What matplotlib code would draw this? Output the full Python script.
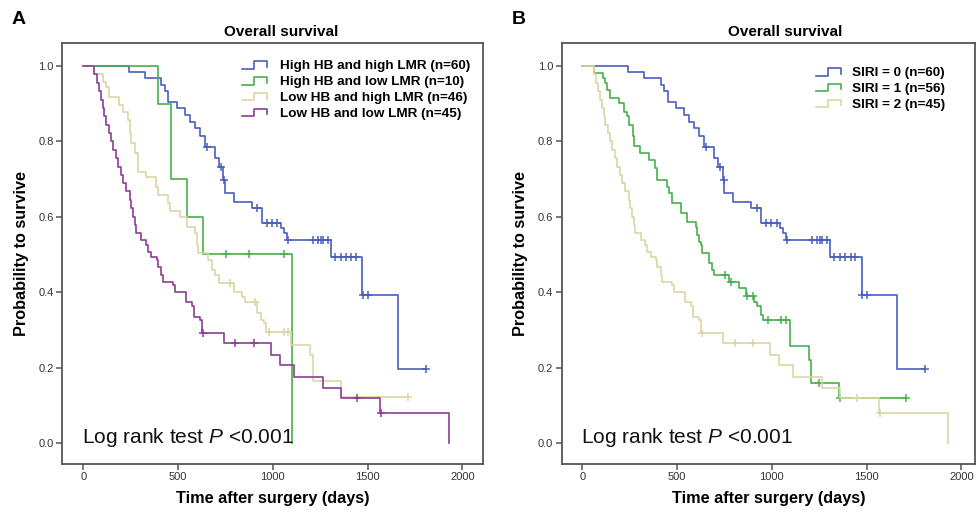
import numpy as np
import matplotlib
matplotlib.use("Agg")
import matplotlib.pyplot as plt
from matplotlib.legend_handler import HandlerBase
from matplotlib.lines import Line2D

plt.rcParams['font.family'] = ['Liberation Sans', 'DejaVu Sans']
plt.rcParams['mathtext.fontset'] = 'custom'
plt.rcParams['mathtext.rm'] = 'Liberation Sans'
plt.rcParams['mathtext.it'] = 'Liberation Sans:italic'

# ---------------- data ----------------
# Curve 1: High HB & high LMR (panel A)  == SIRI = 0 (panel B)
hh_times = [241, 324, 413, 431, 450, 493, 537, 564, 590, 617, 640, 697, 714, 740, 750,
            794, 892, 945, 1043, 1060, 1075, 1309, 1473, 1660]
hh_surv = [0.983, 0.967, 0.950, 0.933, 0.905, 0.888, 0.870, 0.852, 0.835, 0.813, 0.786,
           0.755, 0.733, 0.698, 0.662, 0.640, 0.623, 0.583, 0.569, 0.556, 0.537, 0.492,
           0.393, 0.196]
hh_cens = [652, 727, 745, 919, 971, 998, 1025, 1078, 1211, 1238, 1252, 1264, 1291, 1326,
           1362, 1388, 1415, 1441, 1478, 1500, 1810]

# Curve 2: High HB & low LMR
hl_times = [392, 463, 546, 631, 1100]
hl_surv = [0.9, 0.7, 0.6, 0.5, 0.0]
hl_cens = [754, 874, 1057]

# Curve 3: Low HB & high LMR
lh_times = [59, 103, 121, 138, 188, 209, 236, 245, 254, 271, 289, 333, 386, 395, 449, 457,
            511, 546, 590, 599, 605, 661, 679, 697, 715, 794, 839, 856, 918, 936, 954, 963,
            1096, 1199, 1211, 1358]
lh_surv = [0.978, 0.957, 0.945, 0.919, 0.897, 0.879, 0.857, 0.821, 0.795, 0.768, 0.720,
           0.706, 0.680, 0.658, 0.636, 0.614, 0.600, 0.574, 0.557, 0.525, 0.503, 0.485,
           0.459, 0.446, 0.424, 0.401, 0.388, 0.375, 0.344, 0.326, 0.318, 0.295, 0.260,
           0.233, 0.163, 0.123]
lh_cens = [777, 906, 980, 1057, 1083, 1713]

# Curve 4: Low HB & low LMR (panel A) == SIRI = 2 (panel B)
ll_times = [59, 71, 81, 94, 103, 112, 121, 138, 147, 156, 174, 182, 200, 209, 227, 245, 254,
            262, 271, 277, 307, 333, 342, 360, 387, 395, 413, 422, 475, 484, 543, 573, 582,
            617, 626, 741, 989, 1037, 1110, 1264, 1358, 1566, 1929]
ll_surv = [0.978, 0.956, 0.933, 0.911, 0.889, 0.867, 0.844, 0.822, 0.800, 0.778, 0.756,
           0.733, 0.711, 0.689, 0.667, 0.644, 0.622, 0.600, 0.578, 0.556, 0.538, 0.525,
           0.507, 0.494, 0.485, 0.468, 0.446, 0.428, 0.419, 0.401, 0.375, 0.362, 0.335,
           0.326, 0.291, 0.264, 0.233, 0.207, 0.176, 0.145, 0.118, 0.079, 0.0]
ll_cens = [631, 803, 900, 1447, 1571]

# Curve 5: SIRI = 1
s1_times = [63, 109, 122, 131, 148, 192, 219, 236, 245, 268, 272, 303, 351, 386, 395, 448,
            457, 474, 519, 554, 598, 607, 615, 624, 633, 668, 686, 695, 774, 827, 862, 906,
            924, 942, 951, 1097, 1197, 1206, 1356]
s1_surv = [0.982, 0.967, 0.954, 0.936, 0.914, 0.901, 0.879, 0.866, 0.844, 0.813, 0.788,
           0.770, 0.751, 0.729, 0.698, 0.680, 0.662, 0.636, 0.609, 0.587, 0.574, 0.552,
           0.534, 0.525, 0.503, 0.477, 0.459, 0.446, 0.428, 0.410, 0.390, 0.375, 0.362,
           0.340, 0.326, 0.257, 0.220, 0.158, 0.118]
s1_cens = [751, 783, 871, 898, 980, 1048, 1074, 1250, 1362, 1709]

labels_A = ["High HB and high LMR (n=60)", "High HB and low LMR (n=10)",
            "Low HB and high LMR (n=46)", "Low HB and low LMR (n=45)"]
labels_B = ["SIRI = 0 (n=60)", "SIRI = 1 (n=56)", "SIRI = 2 (n=45)"]

x_ticks = [0, 500, 1000, 1500, 2000]
y_ticks = [0.0, 0.2, 0.4, 0.6, 0.8, 1.0]

BLUE = "#4A5FC0"
GREEN = "#47B04E"
YELLOW = "#DCD6A6"
PURPLE = "#8C3D97"


class StepHandler(HandlerBase):
    def create_artists(self, legend, orig_handle, xdescent, ydescent, width, height,
                       fontsize, trans):
        x0, y0 = -xdescent, -ydescent
        xs = [x0, x0 + 0.47 * width, x0 + 0.47 * width, x0 + width, x0 + width]
        ys = [y0 + 0.05 * height, y0 + 0.05 * height, y0 + 0.85 * height,
              y0 + 0.85 * height, y0 + 0.25 * height]
        ln = Line2D(xs, ys, color=orig_handle.get_color(), lw=orig_handle.get_linewidth())
        ln.set_transform(trans)
        return [ln]


def km(ax, times, surv, cens, color, label):
    t = np.array(times, float)
    s = np.array(surv, float)
    c = np.array(cens, float)
    end = max(t.max(), c.max() if len(c) else 0)
    xs = np.concatenate([[0], t, [end]])
    ys = np.concatenate([[1.0], s, [s[-1]]])
    line, = ax.step(xs, ys, where='post', color=color, lw=1.2, label=label)
    if len(c):
        idx = np.searchsorted(t, c, side='right') - 1
        cs = np.where(idx >= 0, s[np.clip(idx, 0, None)], 1.0)
        ax.plot(c, cs, linestyle='none', marker='+', color=color, ms=6, mew=1.1)
    return line


def style(ax, xlim, title_x):
    ax.set_xlim(*xlim)
    ax.set_ylim(-0.056, 1.061)
    ax.set_xticks(x_ticks)
    ax.set_yticks(y_ticks)
    ax.set_yticklabels([f"{v:.1f}" for v in y_ticks])
    for sp in ax.spines.values():
        sp.set_color('#555555')
        sp.set_linewidth(1.3)
    ax.tick_params(axis='both', direction='out', length=4, width=1.1, color='#555555',
                   labelsize=8, labelcolor='#333333', pad=2)
    ax.tick_params(top=False, right=False)
    ax.set_xlabel("Time after surgery (days)", fontsize=11.7, fontweight='bold', labelpad=6)
    ax.set_ylabel("Probability to survive", fontsize=11.7, fontweight='bold', labelpad=7)
    t = ax.set_title("Overall survival", fontsize=11, fontweight='bold', pad=5)
    t.set_x(title_x)
    ax.text(0.047, 0.064, "Log rank test $P$ <0.001", transform=ax.transAxes,
            fontsize=15, va='center', ha='left', color='#111111')


fig = plt.figure(figsize=(9.76, 5.13), dpi=100)
axA = fig.add_axes([0.0635, 0.0955, 0.4317, 0.8207])
axB = fig.add_axes([0.5755, 0.0955, 0.4235, 0.8207])

hA = [km(axA, hh_times, hh_surv, hh_cens, BLUE, labels_A[0]),
      km(axA, hl_times, hl_surv, hl_cens, GREEN, labels_A[1]),
      km(axA, lh_times, lh_surv, lh_cens, YELLOW, labels_A[2]),
      km(axA, ll_times, ll_surv, ll_cens, PURPLE, labels_A[3])]
style(axA, (-112, 2111), 0.52)

hB = [km(axB, hh_times, hh_surv, hh_cens, BLUE, labels_B[0]),
      km(axB, s1_times, s1_surv, s1_cens, GREEN, labels_B[1]),
      km(axB, ll_times, ll_surv, ll_cens, YELLOW, labels_B[2])]
style(axB, (-109, 2072), 0.54)

common = dict(frameon=False, prop={'size': 9.7, 'weight': 'bold'},
              handler_map={Line2D: StepHandler()}, handlelength=1.85,
              labelspacing=0.25, borderpad=0, borderaxespad=0, loc='upper left')
legA = axA.legend(handles=hA, bbox_to_anchor=(0.428, 0.960), handletextpad=0.96, **common)
legB = axB.legend(handles=hB, bbox_to_anchor=(0.615, 0.944), handletextpad=0.8, **common)

fig.text(0.012, 0.962, "A", fontsize=14, fontweight='bold', va='center')
fig.text(0.524, 0.962, "B", fontsize=14, fontweight='bold', va='center')

fig.savefig("out.png", dpi=100)
